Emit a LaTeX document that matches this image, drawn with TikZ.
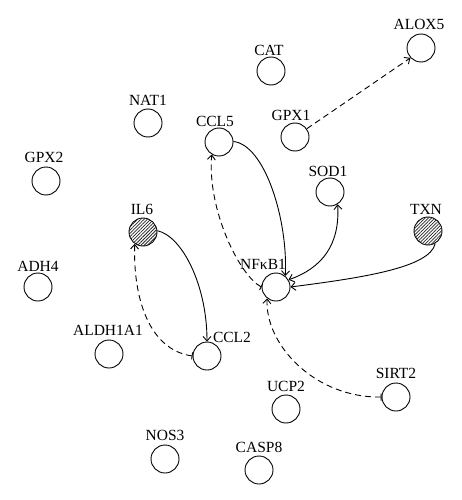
\documentclass[tikz,border=0pt]{standalone}
\usepackage{fontspec}
\setmainfont{Liberation Serif}
\usetikzlibrary{arrows.meta,patterns.meta}
\begin{document}
\begin{tikzpicture}[x=1pt,y=-1pt,
  gene/.style={circle,draw=black,line width=0.9pt,minimum size=28pt,inner sep=0pt,fill=white},
  hot/.style={gene,postaction={pattern={Lines[angle=45,distance=2.3pt,line width=0.85pt]},pattern color=black!85}},
  lab/.style={inner sep=0pt,font=\fontsize{15.5}{17}\selectfont},
  rel/.style={line width=0.9pt,-{Straight Barb[length=4.5pt,width=8pt]}},
  both/.style={line width=0.9pt,{Straight Barb[length=4.5pt,width=8pt]}-{Straight Barb[length=4.5pt,width=8pt]}},
  dsh/.style={line width=0.9pt,dash pattern=on 6pt off 4pt,{Bar[width=7pt,line width=0.9pt]}-{Straight Barb[length=4.5pt,width=8pt]}},
  dshplain/.style={line width=0.9pt,dash pattern=on 6pt off 4pt,-{Straight Barb[length=4.5pt,width=8pt]}}
]
\useasboundingbox (0,0) rectangle (461,500);
\fill[white] (0,0) rectangle (461,500);
% genes
\node[gene] (alox5) at (421,48) {};
\node[lab] (alox5l) at (419,24) {ALOX5};
\node[gene] (cat) at (271,71) {};
\node[lab] (catl) at (269,50) {CAT};
\node[gene] (nat1) at (148,123) {};
\node[lab] (nat1l) at (148,100) {NAT1};
\node[gene] (ccl5) at (219,142) {};
\node[lab] (ccl5l) at (215,121) {CCL5};
\node[gene] (gpx1) at (295,137) {};
\node[lab] (gpx1l) at (291,115) {GPX1};
\node[gene] (gpx2) at (46,181) {};
\node[lab] (gpx2l) at (44,157) {GPX2};
\node[gene] (sod1) at (330,192) {};
\node[lab] (sod1l) at (328,171) {SOD1};
\node[hot] (il6) at (143,232) {};
\node[lab] (il6l) at (142,209) {IL6};
\node[hot] (txn) at (428,231) {};
\node[lab] (txnl) at (426,209) {TXN};
\node[gene] (adh4) at (38,287) {};
\node[lab] (adh4l) at (38,266) {ADH4};
\node[gene] (nfkb1) at (276,287) {};
\node[lab] (nfkb1l) at (263,264) {NFκB1};
\node[gene] (aldh) at (109,354) {};
\node[lab] (aldhl) at (108,330) {ALDH1A1};
\node[gene] (ccl2) at (207,356) {};
\node[lab] (ccl2l) at (232,337) {CCL2};
\node[gene] (ucp2) at (286,409) {};
\node[lab] (ucp2l) at (286,386) {UCP2};
\node[gene] (sirt2) at (396,397) {};
\node[lab] (sirt2l) at (396,373) {SIRT2};
\node[gene] (nos3) at (165,459) {};
\node[lab] (nos3l) at (165,435) {NOS3};
\node[gene] (casp8) at (259,470) {};
\node[lab] (casp8l) at (259,447) {CASP8};
% connectors
\draw[dshplain] (gpx1.35) -- (alox5.-137);
\draw[rel] (ccl5.2) .. controls (265,145) and (288,220) .. (nfkb1.50);
\draw[dsh] (nfkb1.180) .. controls (240,276) and (207,210) .. (ccl5.-120);
\draw[both] (sod1.-58) .. controls (340,245) and (322,268) .. (nfkb1.30);
\draw[rel] (txn.-60) .. controls (430,268) and (360,278) .. (nfkb1.0);
\draw[rel] (il6.5) .. controls (182,236) and (207,285) .. (ccl2.90);
\draw[dsh] (ccl2.180) .. controls (150,350) and (133,300) .. (il6.-125);
\draw[dsh] (sirt2.180) .. controls (315,398) and (265,345) .. (nfkb1.-128);
\end{tikzpicture}
\end{document}
